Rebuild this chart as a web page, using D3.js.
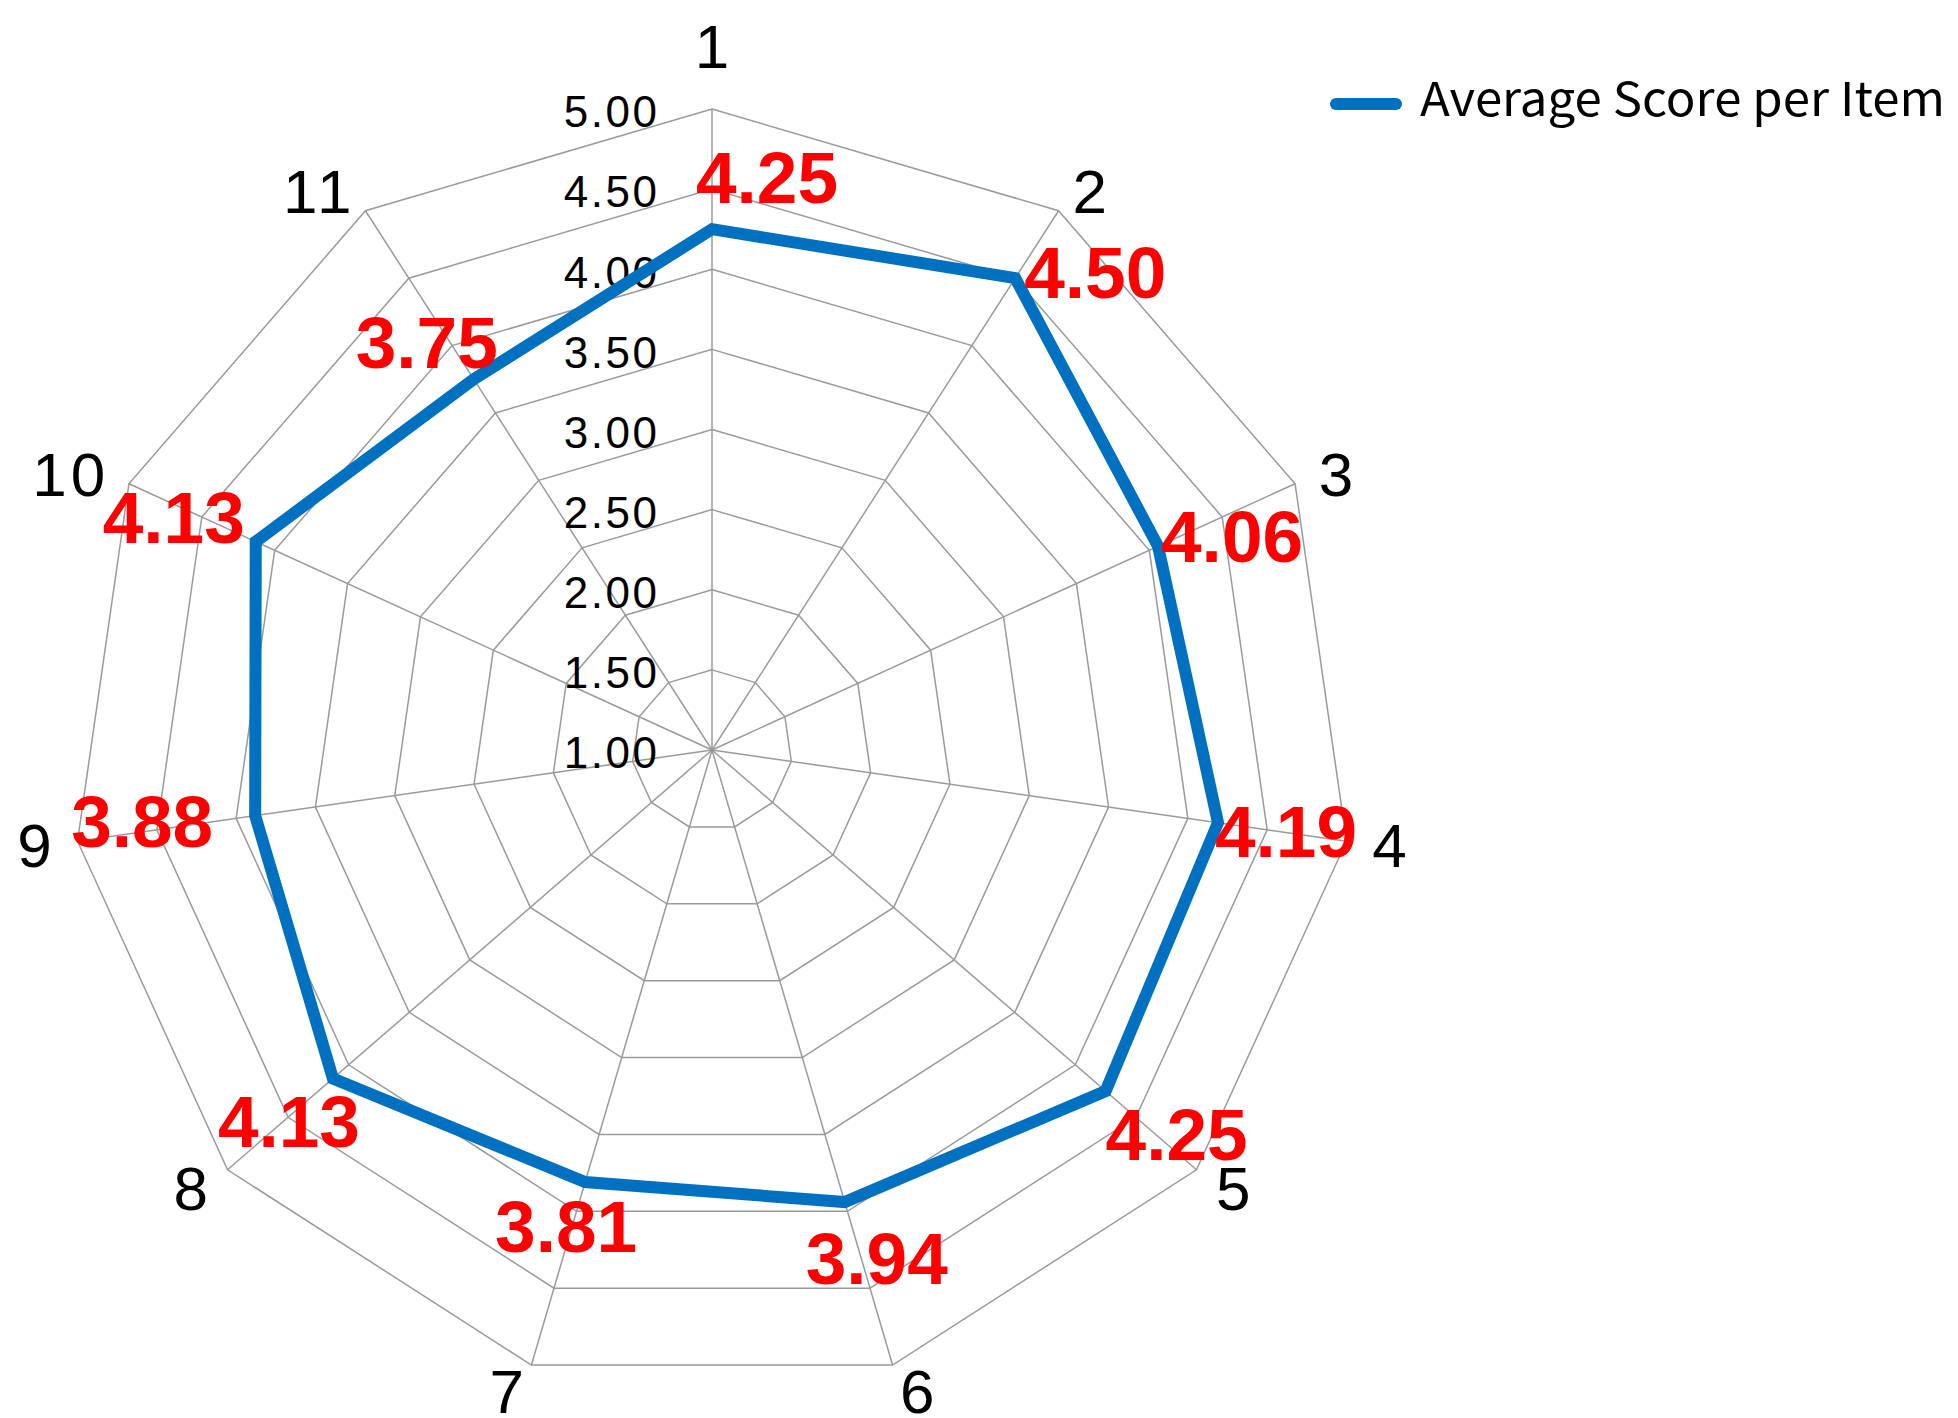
<!DOCTYPE html>
<html>
<head>
<meta charset="utf-8">
<script src="https://cdn.jsdelivr.net/npm/d3@7"></script>
<style>
  html, body { margin: 0; padding: 0; background: #ffffff; }
  svg { display: block; }
</style>
</head>
<body>
<svg id="chart" width="1958" height="1418"></svg>
<script>
// Items around the radar, clockwise from the top
const items = ["1", "2", "3", "4", "5", "6", "7", "8", "9", "10", "11"];
// Average score for each item
const scores = [4.25, 4.50, 4.06, 4.19, 4.25, 3.94, 3.81, 4.13, 3.88, 4.13, 3.75];
// Radial axis ticks
const ticks = [1.00, 1.50, 2.00, 2.50, 3.00, 3.50, 4.00, 4.50, 5.00];
const seriesName = "Average Score per Item";

// Where each value label sits relative to its point (dx, dy of the label centre)
const labelShift = [
  [55, -52], [80, -6], [74, -10], [68, 8], [71, 43], [32, 56],
  [-19, 44], [-44, 42], [-113, 5], [-82, -25], [-47, -37]
];

const W = 1958, H = 1418;
const cx = 712, cy = 750, R = 641;
const BLUE = "#0070C0";
const GRID = "#9a9a9a";

const svg = d3.select("#chart");

const r = d3.scaleLinear().domain([1, 5]).range([0, R]);
const angle = d3.scaleLinear().domain([0, items.length]).range([0, 2 * Math.PI]);
const ux = i => Math.sin(angle(i));
const uy = i => -Math.cos(angle(i));
const pt = (i, v) => [cx + r(v) * ux(i), cy + r(v) * uy(i)];

const g = svg.append("g");

// Concentric polygon grid
const ringLine = d3.line();
g.append("g").selectAll("path")
  .data(ticks.filter(t => t > 1))
  .join("path")
  .attr("d", t => ringLine(items.map((_, i) => pt(i, t))) + "Z")
  .attr("fill", "none")
  .attr("stroke", GRID)
  .attr("stroke-width", 1.5);

// Spokes
g.append("g").selectAll("line")
  .data(items)
  .join("line")
  .attr("x1", cx).attr("y1", cy)
  .attr("x2", (_, i) => pt(i, 5)[0])
  .attr("y2", (_, i) => pt(i, 5)[1])
  .attr("stroke", GRID)
  .attr("stroke-width", 1.5);

// Radial tick labels along the top spoke
const tickFs = 44, tickLs = 2.5;
g.append("g").selectAll("text")
  .data(ticks)
  .join("text")
  .attr("x", cx - 55 + tickLs)
  .attr("y", t => cy - r(t) + 2.5 + 0.358 * tickFs)
  .attr("text-anchor", "end")
  .attr("font-family", "'Liberation Sans', Arial, sans-serif")
  .attr("font-size", tickFs)
  .attr("letter-spacing", tickLs)
  .attr("fill", "#000")
  .text(t => d3.format(".2f")(t));

// Series polygon
g.append("path")
  .attr("d", d3.line()(scores.map((v, i) => pt(i, v))) + "Z")
  .attr("fill", "none")
  .attr("stroke", BLUE)
  .attr("stroke-width", 12)
  .attr("stroke-linejoin", "miter");

// Item labels outside the outer ring
const catFs = 62, catLs = 4;
g.append("g").selectAll("text")
  .data(items)
  .join("text")
  .attr("font-family", "'Liberation Sans', Arial, sans-serif")
  .attr("font-size", catFs)
  .attr("letter-spacing", catLs)
  .attr("fill", "#000")
  .each(function (d, i) {
    const [vx, vy] = pt(i, 5);
    const sel = d3.select(this);
    if (Math.abs(ux(i)) < 0.01) {
      sel.attr("text-anchor", "middle")
        .attr("x", vx + catLs / 2)
        .attr("y", vy - 63 + 0.358 * catFs);
    } else {
      const right = ux(i) > 0;
      const yc = vy + uy(i) * (uy(i) < 0 ? 24 : 27);
      sel.attr("text-anchor", right ? "start" : "end")
        .attr("x", vx + ux(i) * 26 + (right ? 0 : catLs))
        .attr("y", yc + 0.358 * catFs);
    }
  })
  .text(d => d);

// Value labels
const valFs = 73;
g.append("g").selectAll("text")
  .data(scores)
  .join("text")
  .attr("x", (v, i) => pt(i, v)[0] + labelShift[i][0])
  .attr("y", (v, i) => pt(i, v)[1] + labelShift[i][1] + 0.358 * valFs)
  .attr("text-anchor", "middle")
  .attr("font-family", "'Liberation Sans', Arial, sans-serif")
  .attr("font-weight", "bold")
  .attr("font-size", valFs)
  .attr("fill", "#FF0000")
  .text(v => d3.format(".2f")(v));

// Legend
const lg = svg.append("g");
lg.append("line")
  .attr("x1", 1336).attr("x2", 1396)
  .attr("y1", 104).attr("y2", 104)
  .attr("stroke", BLUE)
  .attr("stroke-width", 12)
  .attr("stroke-linecap", "round");
lg.append("text")
  .attr("x", 1420)
  .attr("y", 116)
  .attr("font-family", "'Noto Sans CJK JP', 'Noto Sans', sans-serif")
  .attr("font-size", 47)
  .attr("textLength", 525)
  .attr("lengthAdjust", "spacingAndGlyphs")
  .attr("fill", "#000")
  .text(seriesName);
</script>
</body>
</html>
